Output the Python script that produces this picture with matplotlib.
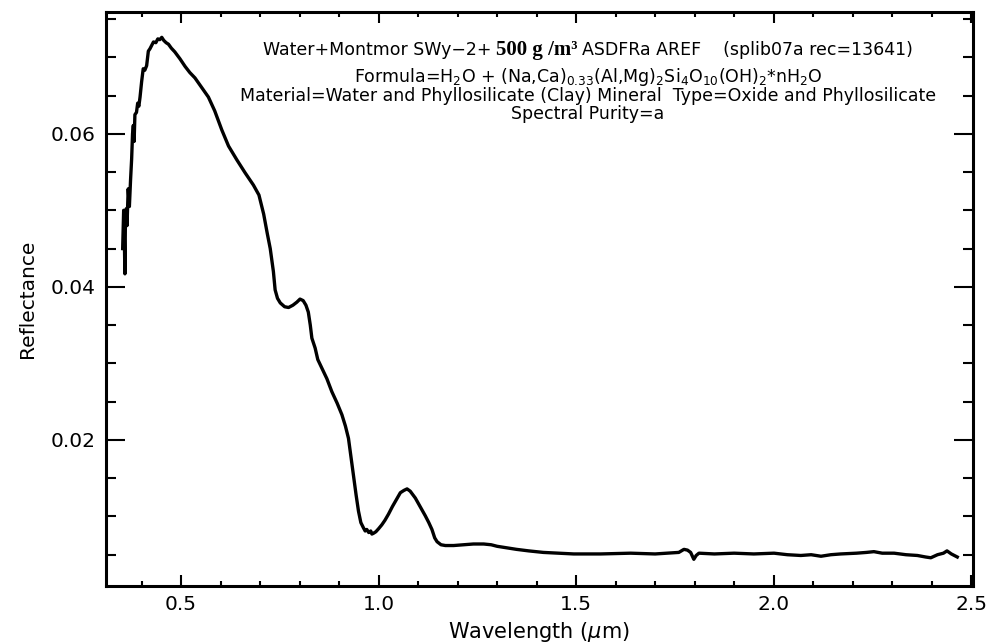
import matplotlib
matplotlib.use("Agg")
import matplotlib.pyplot as plt
from matplotlib.ticker import MultipleLocator, FormatStrFormatter
from matplotlib.offsetbox import TextArea, HPacker, AnchoredOffsetbox

wavelength = [
    0.352, 0.3545, 0.356, 0.3577, 0.359, 0.361, 0.363, 0.366, 0.369, 0.372,
    0.3747, 0.377, 0.379, 0.381, 0.383, 0.387, 0.390, 0.393, 0.396, 0.400,
    0.404, 0.408, 0.4127, 0.417, 0.421, 0.425, 0.430, 0.436, 0.441, 0.446,
    0.451, 0.456, 0.462, 0.468, 0.475, 0.484, 0.497, 0.510, 0.522, 0.535,
    0.550, 0.569, 0.585, 0.603, 0.620, 0.641, 0.662, 0.683, 0.697, 0.709,
    0.718, 0.7256, 0.7336, 0.738, 0.744, 0.751, 0.762, 0.772, 0.783, 0.793,
    0.801, 0.809, 0.816, 0.822, 0.827, 0.831, 0.8393, 0.846, 0.856, 0.869,
    0.8816, 0.895, 0.907, 0.916, 0.9237, 0.930, 0.9364, 0.943, 0.949, 0.955,
    0.9617, 0.966, 0.970, 0.975, 0.980, 0.983, 0.987, 0.993, 1.000, 1.008,
    1.016, 1.025, 1.035, 1.046, 1.055, 1.064, 1.072, 1.080, 1.093, 1.105,
    1.118, 1.127, 1.135, 1.142, 1.148, 1.158, 1.169, 1.190, 1.215, 1.240,
    1.266, 1.285, 1.300, 1.325, 1.349, 1.380, 1.417, 1.455, 1.494, 1.562,
    1.638, 1.700, 1.731, 1.760, 1.773, 1.782, 1.790, 1.798, 1.804, 1.811,
    1.850, 1.900, 1.950, 2.001, 2.035, 2.069, 2.095, 2.120, 2.145, 2.170,
    2.210, 2.235, 2.254, 2.275, 2.305, 2.335, 2.364, 2.385, 2.398, 2.415,
    2.430, 2.439, 2.450, 2.465,
]
reflectance = [
    0.0450, 0.0500, 0.0470, 0.0417, 0.0490, 0.0502, 0.0480, 0.0528, 0.0505, 0.0540,
    0.0567, 0.0600, 0.0611, 0.0590, 0.0625, 0.0628, 0.0640, 0.0636, 0.0648, 0.0668,
    0.0685, 0.0683, 0.0689, 0.0708, 0.0711, 0.0715, 0.0720, 0.0719, 0.0724, 0.0723,
    0.0726, 0.0722, 0.0719, 0.0717, 0.0712, 0.0707, 0.0698, 0.0688, 0.0680, 0.0673,
    0.0662, 0.0648, 0.0630, 0.0605, 0.0584, 0.0566, 0.0549, 0.0533, 0.0520, 0.0495,
    0.0470, 0.0450, 0.0420, 0.0396, 0.0385, 0.0379, 0.0374, 0.0373, 0.0376, 0.0380,
    0.0384, 0.0382, 0.0376, 0.0367, 0.0350, 0.0333, 0.0320, 0.0305, 0.0294, 0.0280,
    0.0263, 0.0248, 0.0233, 0.0218, 0.0202, 0.0178, 0.0154, 0.0128, 0.0107, 0.0092,
    0.0085, 0.0081, 0.0083, 0.0079, 0.0081, 0.0077, 0.0078, 0.0080, 0.0084, 0.0089,
    0.0095, 0.0103, 0.0113, 0.0123, 0.0131, 0.0134, 0.0136, 0.0133, 0.0124, 0.0113,
    0.0101, 0.0092, 0.0083, 0.0072, 0.0067, 0.0063, 0.0062, 0.0062, 0.0063, 0.0064,
    0.0064, 0.0063, 0.0061, 0.0059, 0.0057, 0.0055, 0.0053, 0.0052, 0.0051, 0.0051,
    0.0052, 0.0051, 0.0052, 0.0053, 0.0057, 0.0056, 0.0053, 0.0044, 0.0049, 0.0052,
    0.0051, 0.0052, 0.0051, 0.0052, 0.0050, 0.0049, 0.0050, 0.0048, 0.0050, 0.0051,
    0.0052, 0.0053, 0.0054, 0.0052, 0.0052, 0.0050, 0.0049, 0.0047, 0.0046, 0.0050,
    0.0052, 0.0055, 0.0051, 0.0047,
]

x_ticks = [0.5, 1.0, 1.5, 2.0, 2.5]
y_ticks = [0.02, 0.04, 0.06]

title1_parts = ["Water+Montmor SWy\u22122+", "500 g /m\u00b3", "ASDFRa AREF    (splib07a rec=13641)"]
title_lines = [
    r"Formula=H$_2$O + (Na,Ca)$_{0.33}$(Al,Mg)$_2$Si$_4$O$_{10}$(OH)$_2$*nH$_2$O",
    "Material=Water and Phyllosilicate (Clay) Mineral  Type=Oxide and Phyllosilicate",
    "Spectral Purity=a",
]

plt.rcParams["font.family"] = ["DejaVu Sans"]
plt.rcParams["mathtext.fontset"] = "dejavusans"

fig = plt.figure(figsize=(9.97, 6.43), dpi=100)
ax = fig.add_axes([0.106, 0.0891, 0.8696, 0.8927])

ax.plot(wavelength, reflectance, color="black", lw=2.4, solid_joinstyle="round")

ax.set_xlim(0.309, 2.504)
ax.set_ylim(0.00095, 0.07595)

ax.set_xticks(x_ticks)
ax.set_yticks(y_ticks)
ax.xaxis.set_minor_locator(MultipleLocator(0.1))
ax.yaxis.set_minor_locator(MultipleLocator(0.005))
ax.xaxis.set_major_formatter(FormatStrFormatter("%.1f"))
ax.yaxis.set_major_formatter(FormatStrFormatter("%.2f"))

ax.tick_params(axis="x", which="major", direction="in", length=8, width=1.5,
               top=True, bottom=True, labelsize=14.5, pad=7)
ax.tick_params(axis="x", which="minor", direction="in", length=3.6, width=1.5,
               top=True, bottom=True)
ax.tick_params(axis="y", which="major", direction="in", length=13.7, width=1.5,
               left=True, right=True, labelsize=14.5, pad=7)
ax.tick_params(axis="y", which="minor", direction="in", length=7.2, width=1.5,
               left=True, right=True)
for sp in ax.spines.values():
    sp.set_linewidth(2.2)

ax.set_xlabel(r"Wavelength ($\mu$m)", fontsize=15, labelpad=4)
ax.set_ylabel("Reflectance", fontsize=14.5, labelpad=10)

# first title line: mixed sans / serif pieces
pieces = [
    TextArea(title1_parts[0], textprops=dict(fontsize=12.5, family="DejaVu Sans")),
    TextArea(title1_parts[1], textprops=dict(fontsize=15, family="Liberation Serif",
                                             weight="bold")),
    TextArea(title1_parts[2], textprops=dict(fontsize=12.5, family="DejaVu Sans")),
]
pack = HPacker(children=pieces, align="baseline", pad=0, sep=3)
anch = AnchoredOffsetbox(loc="center", child=pack, frameon=False, pad=0, borderpad=0,
                         bbox_to_anchor=(588 / 997, 1 - 50 / 643),
                         bbox_transform=fig.transFigure)
fig.add_artist(anch)

ys = [77, 96, 114]
for txt, yp in zip(title_lines, ys):
    fig.text(588 / 997, 1 - yp / 643, txt, ha="center", va="center", fontsize=12.5)

fig.savefig("out.png", dpi=100)
